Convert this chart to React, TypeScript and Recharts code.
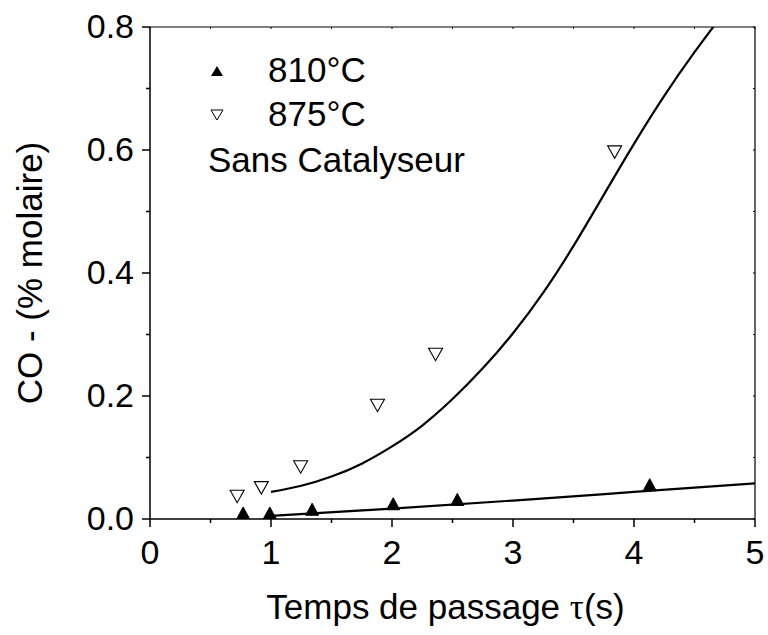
import { ComposedChart, Line, Scatter, XAxis, YAxis } from "recharts";

// 810°C : points mesurés
const tau810 = [0.77, 0.99, 1.34, 2.01, 2.54, 4.13];
const co810 = [0.009, 0.009, 0.015, 0.024, 0.031, 0.055];

// 875°C : points mesurés
const tau875 = [0.72, 0.92, 1.245, 1.88, 2.36, 3.84];
const co875 = [0.037, 0.051, 0.085, 0.185, 0.268, 0.597];

// courbes de modèle
const fitTau810 = [1, 2, 3, 4, 5];
const fitCo810 = [0.005, 0.017, 0.03, 0.044, 0.058];

const fitTau875 = [1, 1.25, 1.5, 1.75, 2, 2.25, 2.5, 2.75, 3, 3.25, 3.5, 3.75, 4, 4.25, 4.5, 4.75];
const fitCo875 = [0.044, 0.054, 0.069, 0.09, 0.118, 0.152, 0.195, 0.245, 0.302, 0.368, 0.444, 0.527, 0.61, 0.688, 0.759, 0.825];

const xTicks = [0, 0.5, 1, 1.5, 2, 2.5, 3, 3.5, 4, 4.5, 5];
const yTicks = [0, 0.1, 0.2, 0.3, 0.4, 0.5, 0.6, 0.7, 0.8];

const toRows = (xs: number[], ys: number[]) => xs.map((x, i) => ({ x, y: ys[i] }));

const pts810 = toRows(tau810, co810);
const pts875 = toRows(tau875, co875);
const line810 = toRows(fitTau810, fitCo810);
const line875 = toRows(fitTau875, fitCo875);

const FONT = "'Liberation Sans', Arial, Helvetica, sans-serif";

const XTick = ({ x, y, payload }: any) => {
  const v = payload.value;
  const major = Number.isInteger(v);
  return (
    <g>
      <line x1={x} x2={x} y1={y} y2={y + (major ? 8 : 4)} stroke="#000" strokeWidth={1.5} />
      {/* petit tick intérieur sur le cadre du haut */}
      <line x1={x} x2={x} y1={27} y2={29} stroke="#000" strokeWidth={1} />
      {major && (
        <text x={x} y={y + 21} dy="0.71em" textAnchor="middle" fontSize={34} fontFamily={FONT} fill="#000">
          {v}
        </text>
      )}
    </g>
  );
};

const YTick = ({ x, y, payload }: any) => {
  const v = payload.value;
  const major = Math.round(v * 10) % 2 === 0;
  return (
    <g>
      <line x1={x} x2={x - (major ? 8 : 4)} y1={y} y2={y} stroke="#000" strokeWidth={1.5} />
      {/* petit tick intérieur sur le cadre de droite */}
      <line x1={753} x2={755} y1={y} y2={y} stroke="#000" strokeWidth={1} />
      {major && (
        <text x={x - 16} y={y} dy="0.33em" textAnchor="end" fontSize={34} fontFamily={FONT} fill="#000">
          {v.toFixed(1)}
        </text>
      )}
    </g>
  );
};

const UpTriangle = ({ cx, cy }: any) => (
  <polygon points={`${cx},${cy - 6.5} ${cx + 6.5},${cy + 5.5} ${cx - 6.5},${cy + 5.5}`} fill="#000" stroke="#000" />
);

const DownTriangle = ({ cx, cy }: any) => (
  <polygon
    points={`${cx - 7},${cy - 6} ${cx + 7},${cy - 6} ${cx},${cy + 6.5}`}
    fill="#fff"
    stroke="#000"
    strokeWidth={1.1}
  />
);

const YTitle = ({ viewBox }: any) => {
  const x = viewBox.x + 30;
  const y = viewBox.y + viewBox.height / 2;
  return (
    <text
      x={x}
      y={y}
      dy="0.35em"
      transform={`rotate(-90 ${x} ${y})`}
      textAnchor="middle"
      fontSize={35}
      fontFamily={FONT}
      fill="#000"
    >
      CO - (% molaire)
    </text>
  );
};

const XTitle = ({ viewBox }: any) => {
  const x = viewBox.x + viewBox.width / 2 - 7;
  const y = viewBox.y + 100;
  return (
    <text x={x} y={y} textAnchor="middle" fontSize={35} fontFamily={FONT} fill="#000">
      Temps de passage <tspan fontFamily="'Liberation Serif', 'Times New Roman', serif">τ</tspan>(s)
    </text>
  );
};

export default function App() {
  return (
    <div style={{ position: "absolute", left: 0, top: 0, width: 768, height: 635, background: "#fff" }}>
      <ComposedChart width={768} height={635} margin={{ top: 27, right: 13, bottom: 0, left: 0 }}>
        <XAxis
          dataKey="x"
          type="number"
          domain={[0, 5]}
          ticks={xTicks}
          interval={0}
          height={116}
          tickSize={0}
          tickMargin={0}
          tick={<XTick />}
          stroke="#000"
          strokeWidth={1.5}
          label={<XTitle />}
        />
        <YAxis
          type="number"
          domain={[0, 0.8]}
          allowDataOverflow
          ticks={yTicks}
          interval={0}
          width={150}
          tickSize={0}
          tickMargin={0}
          tick={<YTick />}
          stroke="#000"
          strokeWidth={1.5}
          label={<YTitle />}
        />
        <Line
          data={line875}
          dataKey="y"
          type="natural"
          stroke="#000"
          strokeWidth={2.2}
          dot={false}
          isAnimationActive={false}
        />
        <Line
          data={line810}
          dataKey="y"
          type="natural"
          stroke="#000"
          strokeWidth={2.2}
          dot={false}
          isAnimationActive={false}
        />
        <Scatter data={pts810} dataKey="y" shape={<UpTriangle />} isAnimationActive={false} />
        <Scatter data={pts875} dataKey="y" shape={<DownTriangle />} isAnimationActive={false} />
      </ComposedChart>
      <svg
        width={768}
        height={635}
        style={{ position: "absolute", left: 0, top: 0, pointerEvents: "none" }}
        fontFamily={FONT}
      >
        {/* cadre haut et droit de la zone de tracé */}
        <polyline points="150,27 755,27 755,519" fill="none" stroke="#000" strokeWidth={1.2} />
        <polygon points="217,66 223,76 211,76" fill="#000" />
        <text x={268} y={82} fontSize={35} fill="#000">810°C</text>
        <polygon points="211,110 223,110 217,120" fill="#fff" stroke="#000" strokeWidth={1} />
        <text x={268} y={126} fontSize={35} fill="#000">875°C</text>
        <text x={208} y={172} fontSize={35} fill="#000">Sans Catalyseur</text>
      </svg>
    </div>
  );
}
